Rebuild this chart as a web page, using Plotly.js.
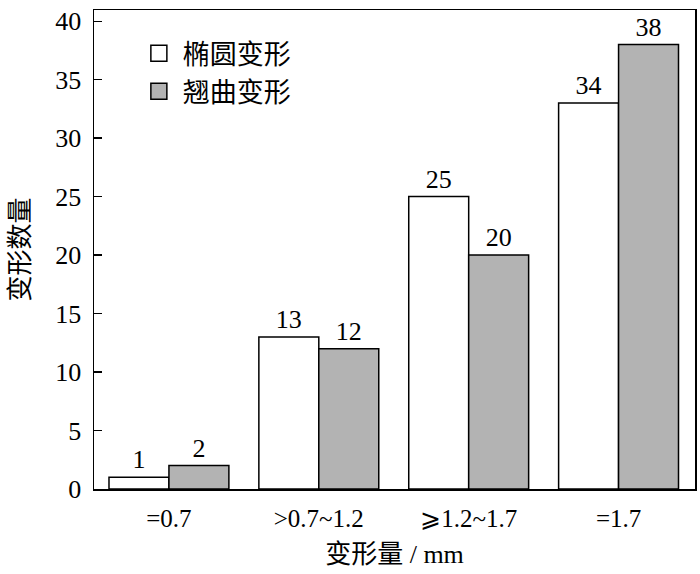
<!DOCTYPE html>
<html>
<head>
<meta charset="utf-8">
<script src="https://cdn.plot.ly/plotly-3.0.1.min.js"></script>
<style>html,body{margin:0;padding:0;background:#fff}#chart{width:700px;height:574px}</style>
</head>
<body>
<div id="chart"></div>
<script>
const categories = ["=0.7", ">0.7~1.2", "⩾1.2~1.7", "=1.7"];
const ellipseValues = [1, 13, 25, 33];
const ellipseLabels = ["1", "13", "25", "34"];
const warpValues = [2, 12, 20, 38];
const warpLabels = ["2", "12", "20", "38"];
const seriesNames = ["椭圆变形", "翘曲变形"];
const seriesColors = ["#ffffff", "#b3b3b3"];
const yTicks = [0, 5, 10, 15, 20, 25, 30, 35, 40];

const FONT = '"Liberation Serif", "Times New Roman", "DejaVu Serif", "Noto Sans CJK SC", serif';

const barTrace = (i, vals, labels) => ({
  type: 'bar', name: seriesNames[i], x: categories, y: vals,
  text: labels, textposition: 'outside', cliponaxis: false,
  textfont: {family: FONT, size: 26, color: '#000'},
  marker: {color: seriesColors[i], line: {color: '#000', width: 1.5}},
  showlegend: false
});
const legendTrace = (i) => ({
  type: 'scatter', mode: 'markers', name: seriesNames[i], x: [null], y: [null],
  marker: {symbol: 'square', size: 20, color: seriesColors[i], line: {color: '#000', width: 1.5}},
  hoverinfo: 'skip'
});

const traces = [
  barTrace(0, ellipseValues, ellipseLabels),
  barTrace(1, warpValues, warpLabels),
  legendTrace(0),
  legendTrace(1)
];

const layout = {
  width: 700, height: 574,
  margin: {l: 94, r: 5, t: 10, b: 85},
  paper_bgcolor: '#fff', plot_bgcolor: '#fff',
  font: {family: FONT, size: 26, color: '#000'},
  barmode: 'group', bargap: 0.2, bargroupgap: 0,
  showlegend: true,
  legend: {
    x: 0.068, y: 0.96, xanchor: 'left', yanchor: 'top',
    bgcolor: 'rgba(0,0,0,0)', borderwidth: 0,
    font: {family: FONT, size: 27, color: '#000'},
    tracegroupgap: 20, itemwidth: 38, itemsizing: 'trace'
  },
  xaxis: {
    range: [-0.5, 3.51],
    showline: true, mirror: true, linecolor: '#000', linewidth: 1.5,
    ticks: '', showgrid: false, zeroline: false,
    ticklabelstandoff: 6,
    tickfont: {family: FONT, size: 25, color: '#000'},
    title: {text: '变形量 / mm', font: {family: FONT, size: 26, color: '#000'}, standoff: 14}
  },
  yaxis: {
    range: [0, 40.95], tickvals: yTicks, ticktext: yTicks.map(String),
    showline: true, mirror: true, linecolor: '#000', linewidth: 1.5,
    ticks: 'inside', ticklen: 8, tickwidth: 1.2, tickcolor: '#000',
    ticklabelstandoff: 6,
    showgrid: false, zeroline: false,
    tickfont: {family: FONT, size: 26, color: '#000'},
    title: {text: '变形数量', font: {family: FONT, size: 26, color: '#000'}, standoff: 18}
  }
};

Plotly.newPlot('chart', traces, layout, {displayModeBar: false, staticPlot: true});
</script>
</body>
</html>
